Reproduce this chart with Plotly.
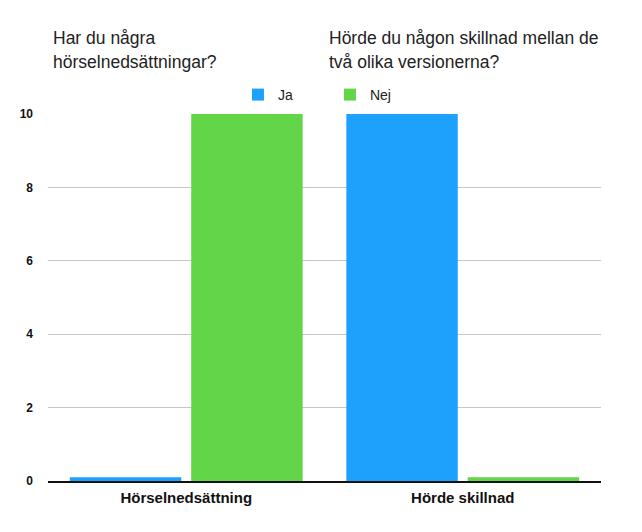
import plotly.graph_objects as go

categories = ["Hörselnedsättning", "Hörde skillnad"]
ja_values = [0.1, 10]
nej_values = [10, 0.1]
series_names = ["Ja", "Nej"]
title_left = ["Har du några", "hörselnedsättningar?"]
title_right = ["Hörde du någon skillnad mellan de", "två olika versionerna?"]
y_ticks = [0, 2, 4, 6, 8, 10]

BLUE = "#1EA1FD"
GREEN = "#63D548"
FONT = "Liberation Sans, Arial, sans-serif"

fig = go.Figure()
fig.add_trace(go.Bar(x=categories, y=ja_values, name=series_names[0], marker=dict(color=BLUE, line=dict(width=0))))
fig.add_trace(go.Bar(x=categories, y=nej_values, name=series_names[1], marker=dict(color=GREEN, line=dict(width=0))))

OFF = 8  # page body offset
W, H = 642 - OFF, 532 - OFF
# plot area in screen coords: x 45..601, y 114..481
ml, mt = 45 - OFF, 114 - OFF
mr = W - (601 - OFF)
mb = H - (481 - OFF)
ph = H - mt - mb
pw = W - ml - mr

def py(pix):
    return (481 - pix) / ph

def px(pix):
    return (pix - 45) / pw

annos = []
for lines, x0 in ((title_left, 48), (title_right, 326)):
    for i, line in enumerate(lines):
        annos.append(dict(text=line, x=px(x0), y=py(38 + 24 * i), xref="paper", yref="paper",
                          xanchor="left", yanchor="middle", showarrow=False,
                          font=dict(size=17.5, color="#222", family=FONT)))

fig.update_layout(
    width=W, height=H,
    margin=dict(l=ml, r=mr, t=mt, b=mb, pad=0),
    paper_bgcolor="white", plot_bgcolor="white",
    barmode="group", bargap=0.122, bargroupgap=0.082,
    font=dict(family=FONT, color="#111"),
    showlegend=True,
    legend=dict(orientation="h", x=px(236), y=py(95), xanchor="left", yanchor="middle",
                font=dict(size=14, color="#222"), entrywidth=47, entrywidthmode="pixels",
                itemwidth=30, traceorder="normal", bgcolor="rgba(0,0,0,0)"),
    annotations=annos,
)
fig.update_yaxes(range=[0, 10], tickvals=y_ticks, showgrid=True, gridcolor="#c6c6c6", gridwidth=1,
                 zeroline=False, showline=False, ticklabelstandoff=14,
                 tickfont=dict(size=12, color="#111", family=FONT, weight="bold"))
fig.update_xaxes(showline=True, linecolor="#111", linewidth=1.5, ticks="", ticklabelstandoff=2,
                 tickfont=dict(size=15, color="#111", family=FONT, weight="bold"))

fig.write_html("out.html")
